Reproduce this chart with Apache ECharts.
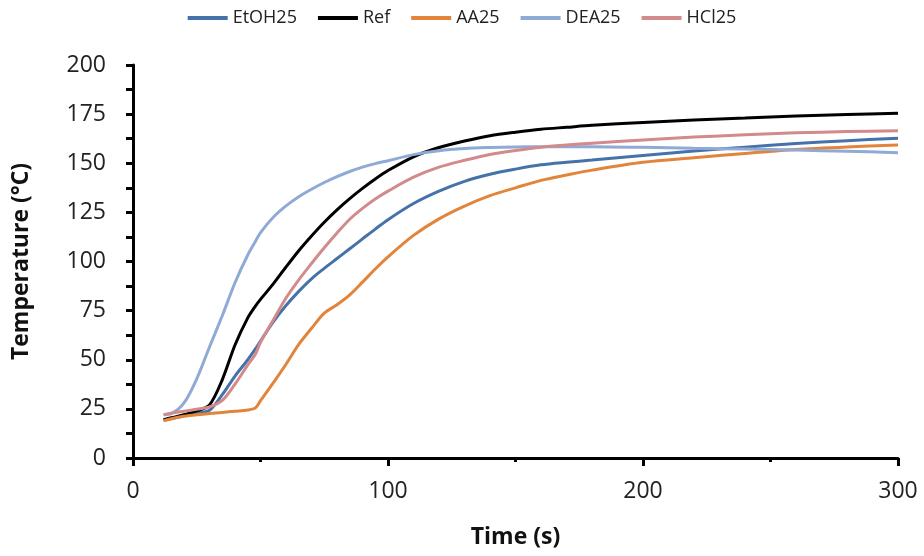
<!DOCTYPE html>
<html>
<head>
<meta charset="utf-8">
<script src="https://cdn.jsdelivr.net/npm/echarts@6/dist/echarts.min.js"></script>
<style>html,body{margin:0;padding:0;background:#fff}#c{width:924px;height:556px}</style>
</head>
<body>
<div id="c"></div>
<script>
var time  = [12, 15, 20, 25, 30, 35, 40, 45, 48, 50, 55, 60, 65, 70, 75, 80, 85, 90, 95, 100, 110, 120, 130, 140, 150, 160, 170, 180, 200, 220, 240, 260, 280, 300];
var etoh25 = [19.2, 20, 21.5, 23, 24.3, 32.2, 41.7, 50, 55.5, 59.5, 69.3, 77.6, 84.8, 91.2, 96.5, 101.5, 106.5, 111.5, 116.5, 121.3, 129.5, 135.8, 140.8, 144.4, 147, 149.2, 150.5, 151.6, 154, 156.2, 158.2, 160, 161.5, 162.7];
var ref    = [19.5, 20.5, 22, 24, 27, 39.8, 57.5, 71.3, 77.3, 80.7, 88.6, 97.2, 105.5, 113, 120, 126.3, 132, 137.2, 142, 146.3, 153.3, 158, 161.3, 164, 165.8, 167.3, 168.3, 169.3, 170.8, 172, 173, 174, 174.8, 175.4];
var aa25   = [19, 20, 21.2, 22, 22.6, 23.2, 23.8, 24.4, 25.5, 29.2, 38.2, 47.7, 57.8, 66, 73.7, 78, 83, 89.5, 96.2, 102.4, 113.3, 121.7, 128.2, 133.5, 137.5, 141.3, 144, 146.5, 150.5, 152.8, 155, 157, 158.3, 159.3];
var dea25  = [22, 22.5, 28, 40.3, 56.5, 72.4, 89.2, 103.3, 110.2, 114.7, 122.5, 128.3, 133, 136.8, 140.2, 143.2, 145.8, 148, 149.8, 151.3, 154.4, 156.4, 157.5, 158, 158.3, 158.4, 158.4, 158.4, 158.1, 157.6, 157.2, 156.7, 156.1, 155.4];
var hcl25  = [22, 22.8, 23.8, 24.8, 26, 29.3, 37.6, 47.4, 52.8, 58.9, 70.2, 81.4, 90.7, 99, 107, 114.5, 121.5, 127, 131.8, 135.8, 142.9, 148, 151.5, 154.5, 156.5, 158.2, 159.3, 160.2, 161.8, 163.3, 164.5, 165.5, 166.1, 166.6];
var seriesNames = ['EtOH25', 'Ref', 'AA25', 'DEA25', 'HCl25'];
var seriesValues = [etoh25, ref, aa25, dea25, hcl25];
var colors = ['#4672aa', '#000000', '#e2843a', '#8faad5', '#d38a8b'];
var xTicks = [0, 100, 200, 300];
var yTicks = [0, 25, 50, 75, 100, 125, 150, 175, 200];

var FONT = '"Open Sans", Lato, sans-serif';
function pairs(vals){ return time.map(function(t,i){ return [t, vals[i]]; }); }

var chart = echarts.init(document.getElementById('c'), null, {renderer:'canvas'});
chart.setOption({
  animation: false,
  backgroundColor: '#fff',
  color: colors,
  legend: {
    top: 4, left: 'center',
    icon: 'rect', itemWidth: 40, itemHeight: 4, itemGap: 21,
    textStyle: {fontFamily: FONT, fontSize: 18, color: '#222'},
    data: seriesNames
  },
  grid: {left: 133, right: 26, top: 65, bottom: 98, containLabel: false},
  xAxis: {
    type: 'value', min: xTicks[0], max: xTicks[xTicks.length-1], interval: 100,
    name: 'Time (s)', nameLocation: 'middle', nameGap: 68,
    nameTextStyle: {fontFamily: FONT, fontSize: 23, fontWeight: 'bold', color: '#111'},
    axisLine: {lineStyle: {color: '#000', width: 3}},
    axisTick: {show: true, inside: false, length: 8, lineStyle: {color: '#000', width: 3}},
    minorTick: {show: true, splitNumber: 2, length: 4, lineStyle: {color: '#000', width: 3}},
    axisLabel: {fontFamily: FONT, fontSize: 23, color: '#222', margin: 22},
    splitLine: {show: false}
  },
  yAxis: {
    type: 'value', min: yTicks[0], max: yTicks[yTicks.length-1], interval: 25,
    name: 'Temperature (°C)', nameLocation: 'middle', nameGap: 100,
    nameTextStyle: {fontFamily: FONT, fontSize: 23, fontWeight: 'bold', color: '#111'},
    axisLine: {show: true, lineStyle: {color: '#000', width: 3}},
    axisTick: {show: true, inside: false, length: 7, lineStyle: {color: '#000', width: 3}},
    minorTick: {show: true, splitNumber: 2, length: 7, lineStyle: {color: '#000', width: 3}},
    axisLabel: {fontFamily: FONT, fontSize: 23, color: '#222', margin: 27},
    splitLine: {show: false}
  },
  series: seriesNames.map(function(n, i){
    return {
      name: n, type: 'line', data: pairs(seriesValues[i]),
      showSymbol: false, symbol: 'none', smooth: 0.3,
      lineStyle: {width: 3, color: colors[i]},
      itemStyle: {color: colors[i]}
    };
  })
});
</script>
</body>
</html>
